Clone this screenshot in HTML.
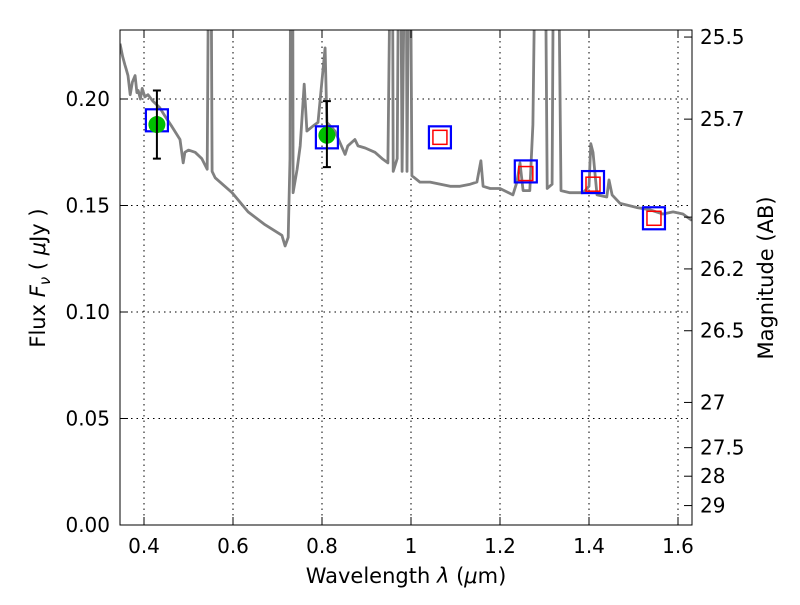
<!DOCTYPE html>
<html><head><meta charset="utf-8"><style>
body{margin:0;background:#fff}
svg text{font-family:"DejaVu Sans","Liberation Sans",sans-serif;fill:#000}
</style></head><body>
<svg id="chart" width="800" height="600" viewBox="0 0 800 600">
<defs><clipPath id="pa"><rect x="120" y="30" width="572" height="495"/></clipPath></defs>
<rect x="0" y="0" width="800" height="600" fill="#fff"/>
<g id="grid"></g>
<g id="spec" clip-path="url(#pa)"></g>
<g id="marks" clip-path="url(#pa)"></g>
<rect x="120" y="30" width="572" height="495" fill="none" stroke="#000" stroke-width="1"/>
<g id="axes"></g>
<text x="406" y="583" font-size="21" text-anchor="middle">Wavelength  <tspan font-style="italic">λ</tspan> (<tspan font-style="italic">μ</tspan>m)</text>
<text transform="translate(45,278) rotate(-90)" font-size="21" text-anchor="middle">Flux  <tspan font-style="italic">F</tspan><tspan font-style="italic" font-size="15" dy="5">ν</tspan><tspan dy="-5">  ( </tspan><tspan font-style="italic">μ</tspan>Jy )</text>
<text transform="translate(773,278) rotate(-90)" font-size="21" text-anchor="middle">Magnitude (AB)</text>
</svg>
<script>
const xTicks=[0.4,0.6,0.8,1.0,1.2,1.4,1.6];
const xTickLabels=["0.4","0.6","0.8","1","1.2","1.4","1.6"];
const yTicks=[0,0.05,0.10,0.15,0.20];
const yTickLabels=["0.00","0.05","0.10","0.15","0.20"];
const magTicks=[25.5,25.7,26,26.2,26.5,27,27.5,28,29];
const magTickLabels=["25.5","25.7","26","26.2","26.5","27","27.5","28","29"];
const specWave=[0.346,0.352,0.357,0.360,0.364,0.369,0.374,0.380,0.384,0.387,0.392,0.396,0.402,0.409,0.420,0.435,0.447,0.463,0.481,0.488,0.492,0.500,0.515,0.530,0.542,0.546,0.550,0.553,0.560,0.598,0.634,0.672,0.710,0.717,0.724,0.728,0.730,0.734,0.735,0.744,0.751,0.760,0.766,0.778,0.784,0.791,0.807,0.811,0.829,0.852,0.858,0.874,0.881,0.897,0.919,0.935,0.948,0.955,0.958,0.960,0.969,0.973,0.976,0.980,0.987,0.989,0.991,0.996,0.998,1.002,1.020,1.043,1.088,1.110,1.133,1.148,1.157,1.162,1.178,1.200,1.229,1.238,1.245,1.252,1.267,1.274,1.281,1.301,1.306,1.317,1.321,1.330,1.337,1.357,1.387,1.400,1.404,1.409,1.418,1.440,1.445,1.452,1.470,1.508,1.537,1.566,1.589,1.611,1.631];
const specFlux=[0.226,0.220,0.216,0.214,0.211,0.202,0.208,0.211,0.203,0.204,0.200,0.205,0.201,0.202,0.199,0.196,0.192,0.187,0.181,0.170,0.175,0.176,0.175,0.172,0.167,0.30,0.30,0.166,0.163,0.156,0.147,0.141,0.136,0.131,0.135,0.172,0.30,0.30,0.156,0.167,0.178,0.207,0.185,0.187,0.188,0.189,0.224,0.189,0.185,0.174,0.178,0.181,0.178,0.177,0.175,0.172,0.170,0.30,0.30,0.166,0.172,0.30,0.30,0.166,0.30,0.30,0.166,0.30,0.30,0.164,0.161,0.161,0.159,0.159,0.160,0.161,0.171,0.159,0.158,0.158,0.155,0.161,0.170,0.157,0.157,0.188,0.30,0.30,0.158,0.160,0.30,0.30,0.157,0.156,0.156,0.159,0.179,0.175,0.155,0.154,0.162,0.155,0.151,0.149,0.148,0.146,0.147,0.146,0.143];
const modelWave=[0.429,0.811,1.065,1.258,1.409,1.546];
const modelFlux=[0.190,0.182,0.182,0.166,0.161,0.144];
const predWave=[1.065,1.258,1.409,1.546];
const predFlux=[0.182,0.165,0.160,0.144];
const obsWave=[0.429,0.811];
const obsFlux=[0.188,0.183];
const obsLo=[0.172,0.168];
const obsHi=[0.204,0.199];

const NS="http://www.w3.org/2000/svg";
function sx(w){return 144+(w-0.4)/0.2*89;}
function sy(f){return 525-f/0.05*106.5;}
function mk(tag,attrs,parent){const e=document.createElementNS(NS,tag);for(const k in attrs)e.setAttribute(k,attrs[k]);parent.appendChild(e);return e;}
const grid=document.getElementById('grid'),axes=document.getElementById('axes');
xTicks.forEach((t,i)=>{
  const x=sx(t);
  const g=mk('line',{x1:x,x2:x,y1:30,y2:525,stroke:'#000','stroke-dasharray':'1.5,4','stroke-width':1},grid);
  
  
  mk('line',{x1:x,x2:x,y1:525,y2:517,stroke:'#000'},axes);
  mk('line',{x1:x,x2:x,y1:30,y2:38,stroke:'#000'},axes);
  const tx=mk('text',{x:x,y:553,'font-size':20,'text-anchor':'middle'},axes);
  tx.textContent=xTickLabels[i];
  
  
});
yTicks.forEach((t,i)=>{
  const y=sy(t);
  const g=mk('line',{x1:120,x2:692,y1:y,y2:y,stroke:'#000','stroke-dasharray':'1.5,4','stroke-width':1},grid);
  
  
  mk('line',{x1:120,x2:128,y1:y,y2:y,stroke:'#000'},axes);
  const tx=mk('text',{x:110,y:y+7,'font-size':20,'text-anchor':'end'},axes);
  tx.textContent=yTickLabels[i];
  
  
});
magTicks.forEach((m,i)=>{
  const f=Math.pow(10,(23.9-m)/2.5);
  const y=sy(f);
  mk('line',{x1:684,x2:692,y1:y,y2:y,stroke:'#000'},axes);
  const tx=mk('text',{x:700,y:y+7,'font-size':20},axes);
  tx.textContent=magTickLabels[i];
  
  
});
const spec=document.getElementById('spec');
const pts=specWave.map((w,i)=>sx(w).toFixed(1)+','+sy(specFlux[i]).toFixed(1)).join(' ');
const pl=mk('polyline',{points:pts,fill:'none',stroke:'#808080','stroke-width':2.8,'stroke-linejoin':'round'},spec);


const marks=document.getElementById('marks');
modelWave.forEach((w,i)=>{
  const r=mk('rect',{x:sx(w)-11,y:sy(modelFlux[i])-11,width:22,height:22,fill:'none',stroke:'#0000ff','stroke-width':2.2},marks);
  
  
});
predWave.forEach((w,i)=>{
  const r=mk('rect',{x:sx(w)-7,y:sy(predFlux[i])-7,width:14,height:14,fill:'none',stroke:'#ff0000','stroke-width':1.5},marks);
  
  
});
obsWave.forEach((w,i)=>{
  const c=mk('circle',{cx:sx(w),cy:sy(obsFlux[i]),r:8.5,fill:'#00bf00'},marks);
  
  
  const x=sx(w),y1=sy(obsLo[i]),y2=sy(obsHi[i]);
  const e=mk('path',{d:`M${x},${y1}V${y2}M${x-4},${y1}H${x+4}M${x-4},${y2}H${x+4}`,stroke:'#000','stroke-width':2,fill:'none'},marks);
  
  
});
</script>
</body></html>
